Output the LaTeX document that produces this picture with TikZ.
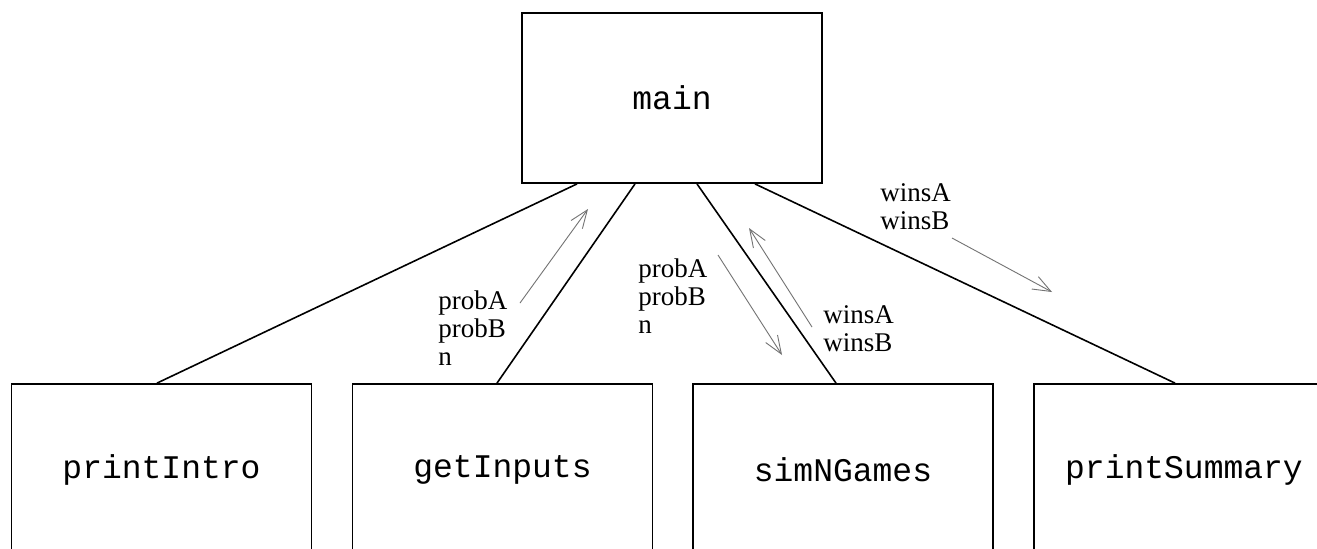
\documentclass[tikz,border=0pt]{standalone}
\usepackage{fontspec}
\setmainfont{Liberation Serif}
\setmonofont{Liberation Mono}
\usetikzlibrary{arrows.meta}
\begin{document}
\begin{tikzpicture}[x=0.5pt,y=-0.5pt,
  box/.style={draw, line width=0.9pt, minimum width=150pt, inner sep=0pt,
    font=\fontsize{16.5}{18}\selectfont\ttfamily},
  link/.style={line width=0.8pt},
  flow/.style={draw=black!55, line width=0.45pt, -{Straight Barb[length=9pt,width=7pt]}},
  lbl/.style={anchor=north west, inner sep=0pt, align=left,
    font=\fontsize{13.5}{14}\selectfont}]
\useasboundingbox (0,0) rectangle (1317,548);
\clip (0,0) rectangle (1317,548);
\fill[white] (0,0) rectangle (1317,548);

\node[box, minimum height=85pt] (main) at (672,98) {main};
\node[box, minimum height=86pt] (intro) at (161.5,470) {printIntro};
\node[box, minimum height=86pt] (inputs) at (502.5,470) {getInputs};
\node[box, minimum height=86pt] (sim) at (843,470) {simNGames};
\node[box, minimum height=86pt] (summary) at (1184,470) {printSummary};

\draw[link] ([xshift=-47.5pt]main.south) -- ([xshift=-2.25pt]intro.north);
\draw[link] ([xshift=-18.5pt]main.south) -- ([xshift=-2.75pt]inputs.north);
\draw[link] ([xshift=12.5pt]main.south) -- ([xshift=-3.5pt]sim.north);
\draw[link] ([xshift=41.5pt]main.south) -- ([xshift=-4.5pt]summary.north);

\coordinate (a1s) at (520,303); \coordinate (a1e) at (588,209);
\coordinate (a2s) at (718,255); \coordinate (a2e) at (782,355);
\coordinate (a3s) at (812,327); \coordinate (a3e) at (749,228);
\coordinate (a4s) at (952,238); \coordinate (a4e) at (1052,292);
\draw[flow] (a1s) -- (a1e);
\draw[flow] (a2s) -- (a2e);
\draw[flow] (a3s) -- (a3e);
\draw[flow] (a4s) -- (a4e);

\node[lbl] (l1) at (438,290) {probA\\probB\\n};
\node[lbl] (l2) at (638,258) {probA\\probB\\n};
\node[lbl] (l3) at (880,183) {winsA\\winsB};
\node[lbl] (l4) at (823,305) {winsA\\winsB};
\end{tikzpicture}
\end{document}
